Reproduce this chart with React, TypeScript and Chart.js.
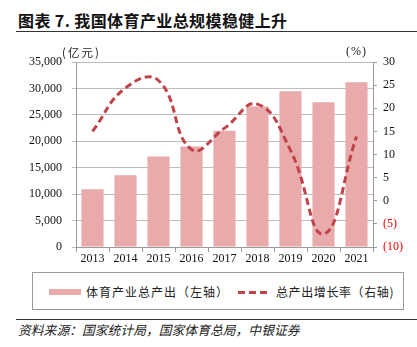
import React, { useEffect, useRef } from "react";
import { Chart, registerables } from "chart.js";

Chart.register(...registerables);

const years = ["2013", "2014", "2015", "2016", "2017", "2018", "2019", "2020", "2021"];
const output = [10913, 13575, 17107, 19011, 21988, 26579, 29483, 27372, 31175];
const growth = [15.0, 24.4, 26.0, 11.1, 15.7, 20.9, 10.9, -7.2, 13.9];
const leftTicks = { min: 0, max: 35000, step: 5000 };
const rightTicks = { min: -10, max: 30, step: 5 };

const BAR = "#E8AAAA";
const LINE = "#C0434A";
const SERIF = "'Liberation Serif', 'Times New Roman', serif";
const CJK = "'Noto Sans CJK SC', sans-serif";

export default function App() {
  const ref = useRef<HTMLCanvasElement | null>(null);
  useEffect(() => {
    if (!ref.current) return;
    const chart = new Chart(ref.current, {
      type: "bar",
      data: {
        labels: years,
        datasets: [
          {
            type: "line",
            label: "总产出增长率（右轴)",
            data: growth,
            yAxisID: "y1",
            borderColor: LINE,
            borderWidth: 3,
            borderDash: [7, 4],
            pointRadius: 0,
            tension: 0.45,
            fill: false,
            order: 0,
          } as any,
          {
            type: "bar",
            label: "体育产业总产出（左轴）",
            data: output,
            yAxisID: "y",
            backgroundColor: BAR,
            barPercentage: 0.67,
            categoryPercentage: 1,
            order: 1,
          },
        ],
      },
      options: {
        animation: false,
        responsive: false,
        maintainAspectRatio: false,
        layout: { padding: { top: 62, left: 0, right: 0, bottom: 0 } },
        plugins: { legend: { display: false }, tooltip: { enabled: false } },
        scales: {
          x: {
            offset: true,
            grid: { offset: true, drawOnChartArea: false, drawTicks: true, tickLength: 5, color: "#9A9A9A" },
            border: { color: "#9A9A9A" },
            ticks: { font: { family: SERIF, size: 12 }, color: "#111", padding: 0, maxRotation: 0 },
            afterFit: (s: any) => { s.height = 23; },
          },
          y: {
            position: "left",
            min: leftTicks.min,
            max: leftTicks.max,
            ticks: {
              stepSize: leftTicks.step,
              font: { family: SERIF, size: 12 },
              color: "#111",
              padding: 10,
              callback: (v: any) => Number(v).toLocaleString("en-US"),
            },
            grid: { color: "#BDBDBD", tickLength: 4, drawTicks: true },
            border: { color: "#9A9A9A" },
            afterFit: (s: any) => { s.width = 76; },
          },
          y1: {
            position: "right",
            min: rightTicks.min,
            max: rightTicks.max,
            ticks: {
              stepSize: rightTicks.step,
              font: { family: SERIF, size: 12 },
              color: (c: any) => (c.tick && c.tick.value < 0 ? "#FF0000" : "#111"),
              padding: 6,
              callback: (v: any) => (Number(v) < 0 ? `(${-Number(v)})` : String(v)),
            },
            grid: { drawOnChartArea: false, tickLength: 4, color: "#9A9A9A" },
            border: { color: "#9A9A9A" },
            afterFit: (s: any) => { s.width = 44; },
          },
        },
      },
    });
    return () => chart.destroy();
  }, []);

  return (
    <div style={{ position: "absolute", left: 0, top: 0, width: 417, height: 347, background: "#fff", overflow: "hidden" }}>
      <div style={{ position: "absolute", left: 18, top: 9, fontFamily: CJK, fontWeight: 700, fontSize: 16, letterSpacing: 0.4, lineHeight: "22px", color: "#111", whiteSpace: "nowrap" }}>
        图表 7. 我国体育产业总规模稳健上升
      </div>
      <div style={{ position: "absolute", left: 16, top: 31, width: 401, height: 1, background: "#333" }} />
      <canvas ref={ref} width={417} height={270} style={{ position: "absolute", left: 0, top: 0, width: 417, height: 270 }} />
      <div style={{ position: "absolute", left: 62, top: 44, fontFamily: CJK, fontSize: 11.5, letterSpacing: 2, color: "#222", whiteSpace: "nowrap" }}>(亿元)</div>
      <div style={{ position: "absolute", left: 346, top: 44, fontFamily: SERIF, fontSize: 12, letterSpacing: 1, color: "#222", whiteSpace: "nowrap" }}>(%)</div>
      <div style={{ position: "absolute", left: 32, top: 272, width: 370, height: 36, border: "1px solid #9A9A9A", boxSizing: "content-box" }}>
        <div style={{ position: "absolute", left: 16, top: 16, width: 32, height: 6, background: BAR }} />
        <div style={{ position: "absolute", left: 53, top: 10, fontFamily: CJK, fontSize: 12, letterSpacing: 1, lineHeight: "18px", color: "#222", whiteSpace: "nowrap" }}>体育产业总产出（左轴）</div>
        <div style={{ position: "absolute", left: 205, top: 18, width: 31, height: 3, background: `repeating-linear-gradient(to right, ${LINE} 0 7px, transparent 7px 11px)` }} />
        <div style={{ position: "absolute", left: 243, top: 10, fontFamily: CJK, fontSize: 12, letterSpacing: 0.6, lineHeight: "18px", color: "#222", whiteSpace: "nowrap" }}>总产出增长率（右轴)</div>
      </div>
      <div style={{ position: "absolute", left: 16, top: 319, width: 401, height: 1, background: "#333" }} />
      <div style={{ position: "absolute", left: 18, top: 321, fontFamily: CJK, fontStyle: "italic", fontSize: 12.8, lineHeight: "18px", color: "#222", whiteSpace: "nowrap" }}>
        资料来源：国家统计局，国家体育总局，中银证券
      </div>
    </div>
  );
}
